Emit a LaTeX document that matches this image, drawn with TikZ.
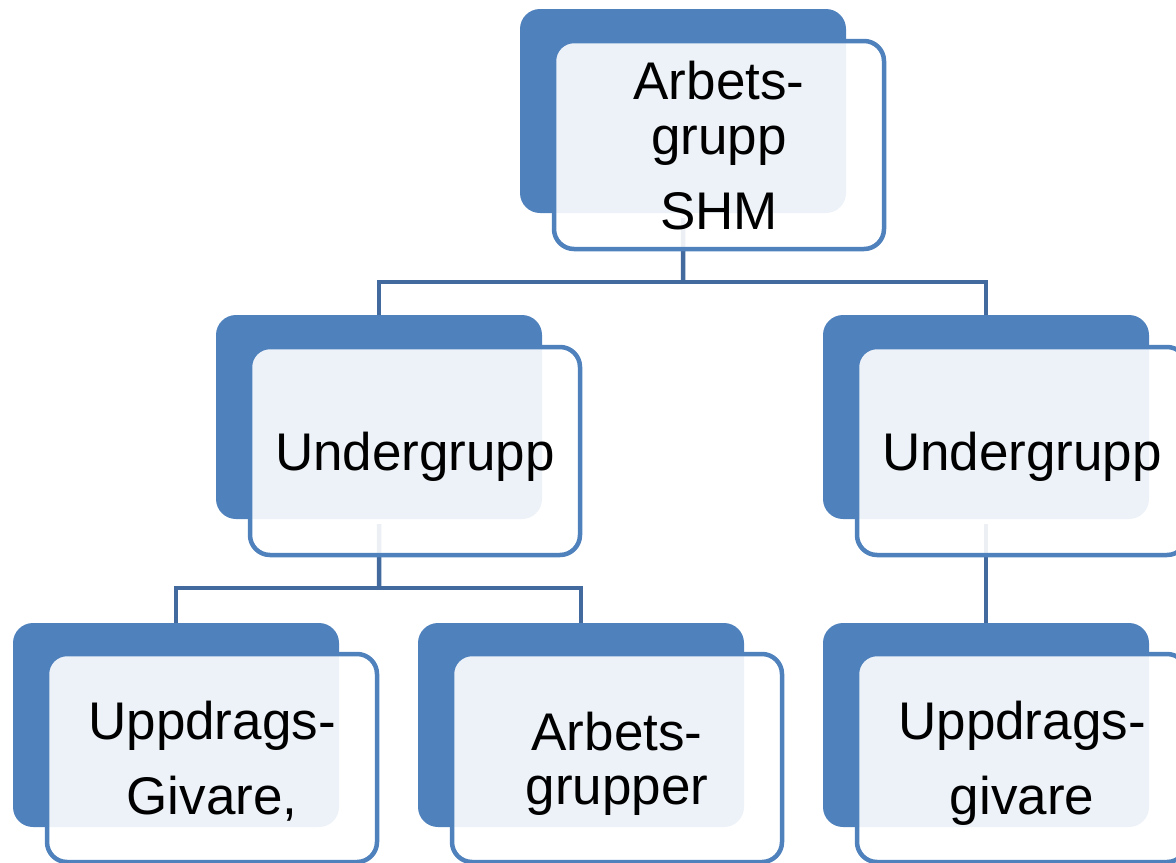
\documentclass[tikz,border=0pt]{standalone}
\usepackage{fontspec}
\setmainfont{Liberation Sans}
\definecolor{accent}{HTML}{4F81BD}
\definecolor{connc}{HTML}{426A9E}
\begin{document}
\begin{tikzpicture}[x=1bp,y=-1bp,
  backbox/.style={rectangle, anchor=north west, minimum width=326bp, minimum height=204bp,
    inner sep=0pt, outer sep=0pt, fill=accent, rounded corners=20bp},
  frontbox/.style={rectangle, anchor=north west, minimum width=330bp, minimum height=208bp,
    inner sep=0pt, outer sep=0pt, draw=accent, line width=4.5bp, fill=white, fill opacity=0.9,
    text opacity=1, rounded corners=20bp, align=center, text depth=0bp,
    font=\fontsize{53bp}{75bp}\selectfont},
  conn/.style={draw=connc, line width=4.5bp}]
\useasboundingbox (0,0) rectangle (1176,863);
\clip (0,0) rectangle (1176,863);
% back boxes
\node[backbox] (b0) at (520,9) {};
\node[backbox] (b1) at (216,315) {};
\node[backbox] (b2) at (823,315) {};
\node[backbox] (b3) at (13,623) {};
\node[backbox] (b4) at (418,623) {};
\node[backbox] (b5) at (823,623) {};
% junctions
\coordinate (j0) at (683,282);
\coordinate (j1) at (379,588);
% connectors
\draw[conn] ([yshift=-5bp]b0.south) -- (j0);
\draw[conn] (b1.north) |- (j0) -| (b2.north);
\draw[conn] ([yshift=-5bp]b1.south) -- (j1);
\draw[conn] (b3.north) |- (j1) -| (b4.north);
\draw[conn] ([yshift=-5bp]b2.south) -- (b5.north);
% front boxes
\node[frontbox] (f0) at (554,41) {Arbets-\\[-20bp]grupp\\SHM};
\node[frontbox] (f1) at (250,347) {Undergrupp};
\node[frontbox] (f2) at (857,347) {Undergrupp};
\node[frontbox] (f3) at (47,654) {Uppdrags-\\Givare,};
\node[frontbox] (f4) at (452,654) {Arbets-\\[-21bp]grupper};
\node[frontbox] (f5) at (857,654) {Uppdrags-\\givare};
\end{tikzpicture}
\end{document}
